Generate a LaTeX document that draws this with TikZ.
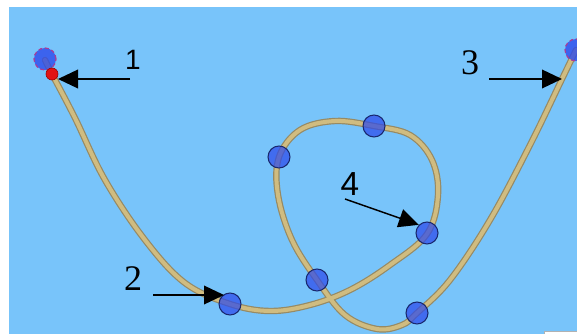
\documentclass[tikz,border=0pt]{standalone}
\usepackage{fontspec}
\setmainfont{Liberation Serif}
\newfontfamily\lsans{Liberation Sans}
\usetikzlibrary{arrows.meta}
\definecolor{bg}{RGB}{120,196,250}
\definecolor{ropeedge}{RGB}{150,138,100}
\definecolor{rope}{RGB}{208,188,128}
\definecolor{dotfill}{RGB}{45,75,235}
\definecolor{dotedge}{RGB}{25,40,110}
\definecolor{reddot}{RGB}{225,20,20}
\definecolor{enddash}{RGB}{170,60,150}
\tikzset{
  dotnode/.style={circle, minimum size=16.5pt, inner sep=0pt, fill=dotfill, fill opacity=0.72, draw=dotedge, draw opacity=1, line width=0.8pt},
  enddot/.style={circle, minimum size=16.5pt, inner sep=0pt, fill=dotfill, fill opacity=0.8, draw=enddash, draw opacity=1, line width=0.9pt, densely dashed},
  ptr/.style={draw=black, line width=1.1pt, -{Triangle[length=15pt, width=14pt]}},
  serifnum/.style={font=\fontsize{27}{30}\selectfont, inner sep=0pt, text=black},
  sansnum/.style={font=\lsans\fontsize{21}{24}\selectfont, inner sep=0pt, text=black},
  ropeout/.style={draw=ropeedge, line width=4.8pt, line cap=round},
  ropein/.style={draw=rope, line width=3pt, line cap=round}
}
\begin{document}
\begin{tikzpicture}[x=0.75pt,y=-0.75pt]
\path[use as bounding box, fill=white] (0,0) rectangle (577,334);
\fill[bg] (9,7) rectangle (577,334);
\draw[fill=white, draw=gray!60, line width=0.5pt] (544,331) rectangle (580,340);
% rope
\def\ropepath{plot[smooth, tension=0.6] coordinates {(45,60) (52,74) (75,118) (105,180) (145,240) (185,283) (230,304) (270,311) (310,305) (350,290) (390,265) (427,234) (438,195) (432,160) (410,135) (374,126) (335,121) (300,130) (279,157) (278,195) (292,240) (317,280) (345,315) (377,329) (402,325) (417,313) (450,280) (490,220) (530,145) (562,79) (576,50)}}
\path[ropeout] \ropepath;
\path[ropein] \ropepath;
% dots
\node[enddot] (start) at (45,59) {};
\node[circle, minimum size=9pt, inner sep=0pt, fill=reddot, draw={rgb,255:red,160;green,0;blue,0}, line width=0.5pt] (red) at (52,74) {};
\node[enddot] (finish) at (576,50) {};
\node[dotnode] (d2) at (230,304) {};
\node[dotnode] (d5) at (317,280) {};
\node[dotnode] (d6) at (417,313) {};
\node[dotnode] (d4) at (427,233) {};
\node[dotnode] (d7) at (374,126) {};
\node[dotnode] (d8) at (279,157) {};
% labels
\node[sansnum] (l1) at (133,60) {1};
\node[serifnum] (l2) at (133,279) {2};
\node[serifnum] (l3) at (470,63) {3};
\node[sansnum, font=\lsans\fontsize{25}{28}\selectfont] (l4) at (350,184) {4};
% arrows
\coordinate (t1) at (130,79);
\coordinate (h1) at (58,79);
\coordinate (t2) at (153,295);
\coordinate (h2) at (224,295);
\coordinate (t3) at (489,79);
\coordinate (h3) at (562,79);
\coordinate (t4) at (345,199);
\draw[ptr] (t1) -- (h1);
\draw[ptr] (t2) -- (h2);
\draw[ptr] (t3) -- (h3);
\draw[ptr] (t4) -- (d4.135);
\end{tikzpicture}
\end{document}
